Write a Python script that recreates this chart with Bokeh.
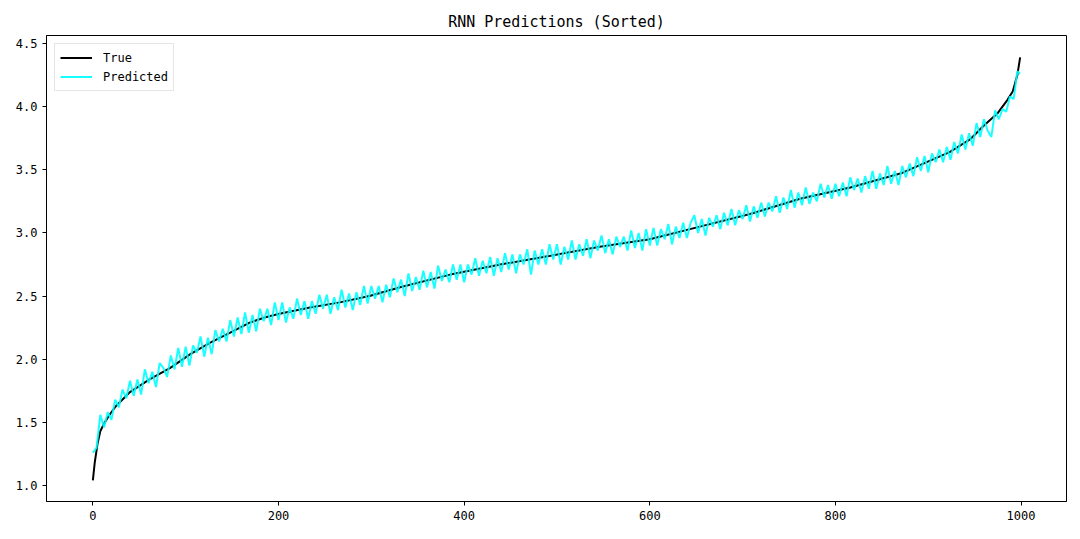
from bokeh.plotting import figure
from bokeh.models import Legend, LegendItem, FixedTicker, NumeralTickFormatter, Range1d
from bokeh.embed import file_html
from bokeh.resources import INLINE

title_text = "RNN Predictions (Sorted)"
series_names = ["True", "Predicted"]

x_ticks = [0, 200, 400, 600, 800, 1000]
y_ticks = [1.0, 1.5, 2.0, 2.5, 3.0, 3.5, 4.0, 4.5]

# True (sorted) values
true_idx = [0, 2, 5, 8, 12, 18, 25, 40, 61, 83,
            105, 126, 148, 169, 185, 201, 234, 266, 298, 331,
            385, 439, 493, 546, 600, 654, 708, 762, 816, 870,
            923, 945, 960, 975, 985, 991, 996, 999]
true_vals = [1.04, 1.18, 1.33, 1.43, 1.49, 1.56, 1.63, 1.74, 1.84, 1.93,
             2.04, 2.13, 2.21, 2.29, 2.33, 2.36, 2.41, 2.45, 2.50, 2.57,
             2.67, 2.75, 2.82, 2.89, 2.95, 3.05, 3.15, 3.27, 3.36, 3.47,
             3.64, 3.74, 3.85, 3.95, 4.05, 4.12, 4.25, 4.39]

# Predicted values (every 4th sample)
pred_idx = list(range(0, 1000, 4)) + [999]
pred_vals = [
    1.26, 1.30, 1.56, 1.46, 1.58, 1.52, 1.68, 1.62, 1.76, 1.69,
    1.83, 1.71, 1.84, 1.72, 1.92, 1.81, 1.90, 1.78, 1.97, 1.93,
    1.86, 2.03, 1.92, 2.09, 1.94, 2.10, 1.95, 2.11, 2.05, 2.18,
    2.02, 2.17, 2.04, 2.23, 2.14, 2.24, 2.14, 2.31, 2.18, 2.33,
    2.20, 2.37, 2.21, 2.35, 2.22, 2.40, 2.30, 2.40, 2.27, 2.45,
    2.31, 2.45, 2.29, 2.41, 2.32, 2.48, 2.35, 2.46, 2.32, 2.46,
    2.36, 2.51, 2.40, 2.51, 2.36, 2.49, 2.39, 2.55, 2.41, 2.52,
    2.39, 2.53, 2.43, 2.58, 2.44, 2.58, 2.48, 2.58, 2.45, 2.59,
    2.49, 2.64, 2.53, 2.63, 2.50, 2.68, 2.54, 2.65, 2.55, 2.70,
    2.57, 2.69, 2.56, 2.74, 2.62, 2.71, 2.61, 2.75, 2.63, 2.75,
    2.61, 2.75, 2.67, 2.80, 2.66, 2.78, 2.68, 2.81, 2.66, 2.80,
    2.69, 2.84, 2.71, 2.83, 2.68, 2.83, 2.75, 2.87, 2.67, 2.86,
    2.75, 2.87, 2.75, 2.91, 2.79, 2.91, 2.75, 2.89, 2.79, 2.94,
    2.79, 2.91, 2.82, 2.95, 2.80, 2.94, 2.86, 2.98, 2.84, 2.95,
    2.83, 2.97, 2.89, 2.97, 2.86, 3.02, 2.88, 3.00, 2.86, 3.03,
    2.90, 3.04, 2.90, 3.03, 2.95, 3.07, 2.91, 3.05, 2.96, 3.08,
    2.96, 3.08, 3.14, 3.00, 3.11, 2.98, 3.12, 3.05, 3.14, 3.03,
    3.16, 3.06, 3.19, 3.06, 3.18, 3.11, 3.22, 3.09, 3.21, 3.12,
    3.24, 3.13, 3.24, 3.17, 3.29, 3.16, 3.28, 3.19, 3.34, 3.20,
    3.32, 3.22, 3.36, 3.23, 3.32, 3.25, 3.39, 3.28, 3.38, 3.27,
    3.39, 3.29, 3.40, 3.29, 3.44, 3.34, 3.43, 3.32, 3.45, 3.35,
    3.49, 3.35, 3.47, 3.38, 3.53, 3.39, 3.49, 3.38, 3.53, 3.44,
    3.55, 3.45, 3.60, 3.49, 3.61, 3.48, 3.63, 3.56, 3.66, 3.56,
    3.68, 3.58, 3.72, 3.63, 3.78, 3.66, 3.79, 3.69, 3.87, 3.76,
    3.90, 3.81, 3.76, 3.97, 3.90, 3.98, 3.96, 4.08, 4.06, 4.28,
    4.26,
]

FONT = "DejaVu Sans Mono"

p = figure(frame_width=1020, frame_height=466,
           min_border_left=46, min_border_right=12, min_border_top=35, min_border_bottom=36,
           x_range=Range1d(-49.95, 1048.95), y_range=Range1d(0.8733, 4.5633),
           output_backend="svg", toolbar_location=None)

p.title.text = title_text
p.title.align = "center"
p.title.text_font = FONT
p.title.text_font_size = "15px"
p.title.text_font_style = "normal"
p.title.text_color = "black"

p.xgrid.visible = False
p.ygrid.visible = False
p.outline_line_color = "black"
p.outline_line_width = 1
p.background_fill_color = "white"
p.border_fill_color = "white"

for ax in (p.xaxis[0], p.yaxis[0]):
    ax.axis_line_color = "black"
    ax.major_tick_line_color = "black"
    ax.major_tick_out = 4
    ax.major_tick_in = 0
    ax.minor_tick_line_color = None
    ax.major_label_text_font = FONT
    ax.major_label_text_font_size = "12px"
    ax.major_label_text_color = "black"
    ax.major_label_standoff = 5

p.xaxis[0].ticker = FixedTicker(ticks=x_ticks)
p.yaxis[0].ticker = FixedTicker(ticks=y_ticks)
p.yaxis[0].formatter = NumeralTickFormatter(format="0.0")

r_true = p.line(true_idx, true_vals, line_color="black", line_width=2)
r_pred = p.line(pred_idx, pred_vals, line_color="cyan", line_width=2, line_alpha=0.9)

legend = Legend(items=[LegendItem(label=series_names[0], renderers=[r_true]),
                       LegendItem(label=series_names[1], renderers=[r_pred])],
                location="top_left")
legend.margin = 8
legend.padding = 5
legend.spacing = 2
legend.label_height = 17
legend.glyph_height = 17
legend.glyph_width = 32
legend.label_standoff = 11
legend.label_text_font = FONT
legend.label_text_font_size = "12px"
legend.label_text_color = "black"
legend.border_line_color = "#cccccc"
legend.border_line_width = 1
legend.background_fill_alpha = 0.8
p.add_layout(legend)

open("out.html", "w").write(file_html(p, INLINE))
